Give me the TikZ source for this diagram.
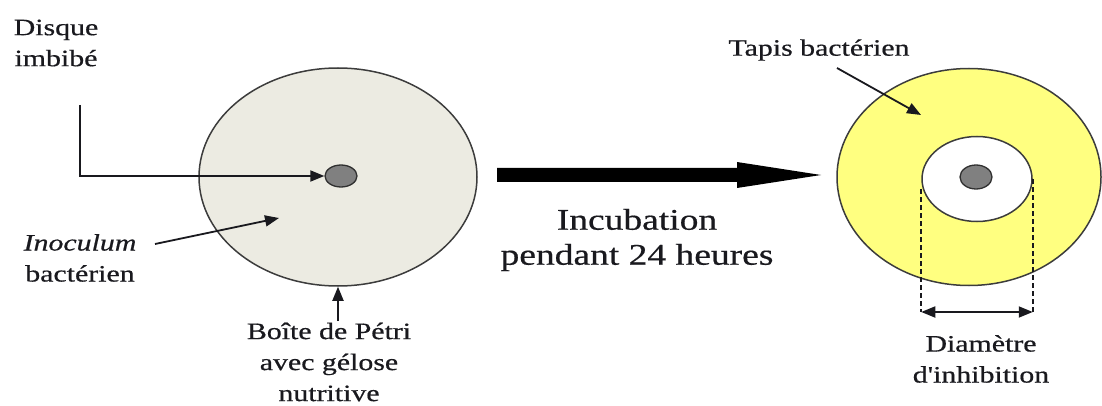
\documentclass[tikz,border=0pt]{standalone}
\usepackage{fontspec}
\setmainfont{Liberation Serif}[FakeBold=0.5]
\usetikzlibrary{arrows.meta,shapes.geometric}
\definecolor{dishfill}{RGB}{236,235,226}
\definecolor{dishline}{RGB}{60,60,60}
\definecolor{tapis}{RGB}{255,255,128}
\definecolor{discfill}{RGB}{128,128,128}
\definecolor{inkc}{RGB}{25,25,30}
\begin{document}
\begin{tikzpicture}[x=1pt,y=-1pt,
  lbl/.style={font=\fontsize{23.5}{31}\selectfont, align=center, xscale=1.27, inner sep=0pt, text=inkc},
  biglbl/.style={font=\fontsize{30}{35}\selectfont, align=center, xscale=1.25, inner sep=0pt, text=inkc},
  dish/.style={ellipse, draw=dishline, line width=1.5pt, inner sep=0pt},
  disc/.style={ellipse, draw=dishline!80!black, fill=discfill, line width=1.3pt, minimum width=32pt, minimum height=22pt, inner sep=0pt},
  ptr/.style={draw=inkc, line width=1.8pt, -{Triangle[length=14pt,width=11pt]}},
  dimline/.style={draw=inkc, line width=1.8pt, dash pattern=on 5pt off 3pt}
]
\useasboundingbox (0,0) rectangle (1102,406);
% left Petri dish
\node[dish, fill=dishfill, minimum width=278pt, minimum height=218pt] (dish1) at (338,177) {};
\node[disc] (disc1) at (341,176) {};
% right dish
\node[dish, fill=tapis, minimum width=264pt, minimum height=217pt] (dish2) at (969,177) {};
\node[dish, fill=white, minimum width=110pt, minimum height=85pt] (zone) at (977,179) {};
\node[disc, minimum height=24pt] (disc2) at (976,177) {};

% labels
\node[lbl] (disque) at (56,43) {Disque\\imbibé};
\node[lbl] (inoc) at (80,258) {\textit{Inoculum}\\bactérien};
\node[lbl] (boite) at (329,362) {Boîte de Pétri\\avec gélose\\nutritive};
\node[biglbl] (incub) at (637,240) {Incubation\\pendant 24 heures};
\node[lbl] (tapisl) at (819,50) {Tapis bactérien};
\node[lbl] (diam) at (981,359) {Diamètre\\d\textquotesingle inhibition};

% connectors
\coordinate (dq) at (80,105);
\draw[ptr] (dq) |- (disc1.west);
\coordinate (inS) at (155,244);
\coordinate (inE) at (279,218);
\draw[ptr] (inS) -- (inE);
\coordinate (bp) at (338,321);
\draw[ptr] (bp) -- (dish1.south);
\coordinate (tpS) at (837,68);
\coordinate (tpE) at (921,115);
\draw[ptr] (tpS) -- (tpE);

% big arrow
\coordinate (bigS) at (497,175);
\coordinate (bigE) at (821,175);
\fill[black] (bigS) ++(0,-7) -- (737,168) -- (737,162) -- (bigE) -- (737,188) -- (737,182) -- (497,182) -- cycle;

% inhibition diameter
\coordinate (dl) at (zone.west |- 0,312);
\coordinate (dr) at (zone.east |- 0,312);
\draw[dimline] (zone.west) ++(0,10) -- (dl);
\draw[dimline] (zone.east) -- (dr);
\draw[draw=inkc, line width=1.8pt, {Triangle[length=14pt,width=11pt]}-{Triangle[length=14pt,width=11pt]}] (dl) -- (dr);
\end{tikzpicture}
\end{document}
